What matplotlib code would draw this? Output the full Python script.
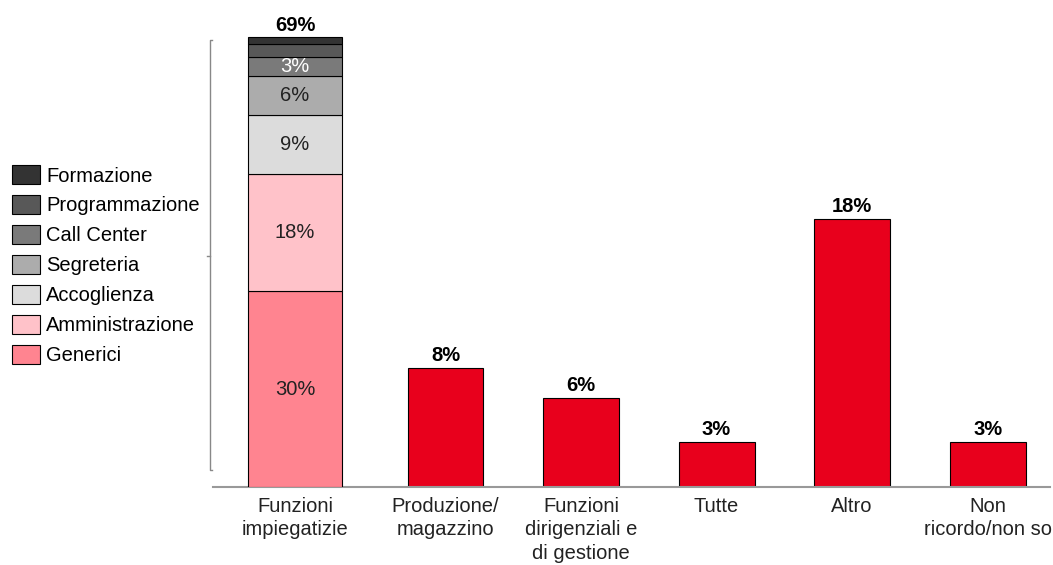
import matplotlib.pyplot as plt
from matplotlib.lines import Line2D

plt.rcParams['font.family'] = ['Liberation Sans', 'DejaVu Sans']

# categorie sull'asse x
categories = ["Funzioni\nimpiegatizie", "Produzione/\nmagazzino", "Funzioni\ndirigenziali e\ndi gestione",
              "Tutte", "Altro", "Non\nricordo/non so"]
positions = [0, 1.11, 2.11, 3.11, 4.11, 5.11]

# barra impilata (Funzioni impiegatizie)
stack_names = ["Generici", "Amministrazione", "Accoglienza", "Segreteria",
               "Call Center", "Programmazione", "Formazione"]
stack_values = [30, 18, 9, 6, 3, 2, 1]
stack_labels = ["30%", "18%", "9%", "6%", "3%", "", ""]
stack_total = "69%"
stack_colors = ["#FF8490", "#FFC2C9", "#DCDCDC", "#ACACAC", "#7A7A7A", "#585858", "#333333"]
stack_text_colors = ["#222222", "#222222", "#222222", "#222222", "white", "white", "white"]

# altre barre rosse
red_values = [8, 6, 3, 18, 3]
red_labels = ["8%", "6%", "3%", "18%", "3%"]
red_color = "#E8001C"

FS = 14.5

fig = plt.figure(figsize=(10.53, 5.65), dpi=100)
ax = fig.add_axes([213 / 1053, 78 / 565, 837 / 1053, 457 / 565])
ax2 = ax.twinx()

# asse principale: barre rosse
ax.bar(positions[1:], red_values, width=0.56, color=red_color, edgecolor="black", linewidth=0.8)
for x, v, lab in zip(positions[1:], red_values, red_labels):
    ax.text(x, v + 0.2, lab, ha="center", va="bottom", fontsize=FS, fontweight="bold")
ax.set_ylim(0, 30.7)

# asse secondario: barra impilata
bottom = 0
handles = []
for name, v, c, lab, tc in zip(stack_names, stack_values, stack_colors, stack_labels, stack_text_colors):
    b = ax2.bar(positions[0], v, width=0.69, bottom=bottom, color=c, edgecolor="black",
                linewidth=0.8, label=name)
    handles.append(b)
    if lab:
        ax2.text(positions[0], bottom + v / 2, lab, ha="center", va="center", fontsize=FS, color=tc)
    bottom += v
ax2.text(positions[0], bottom + 0.4, stack_total, ha="center", va="bottom", fontsize=FS, fontweight="bold")
ax2.set_ylim(0, 70.1)

for a in (ax, ax2):
    for s in ["top", "right", "left"]:
        a.spines[s].set_visible(False)
    a.set_yticks([])
ax2.spines["bottom"].set_visible(False)
ax.spines["bottom"].set_color("#999999")
ax.spines["bottom"].set_linewidth(1.5)

ax.set_xlim(-0.605, 5.57)
ax.set_xticks(positions)
ax.set_xticklabels(categories, fontsize=FS, color="#222222", linespacing=1.3)
ax.tick_params(axis="x", length=0, pad=7)

# parentesi a sinistra della barra impilata
W, H = 1053, 565
px = lambda x, y: (x / W, 1 - y / H)
for seg in [((212, 40), (210, 40), (210, 470), (212, 470)), ((210, 256), (207, 256))]:
    xs, ys = zip(*[px(*p) for p in seg])
    fig.add_artist(Line2D(xs, ys, color="#888888", linewidth=1))

# legenda
fig.legend(handles=handles[::-1], labels=stack_names[::-1], loc="upper left",
           bbox_to_anchor=(12 / 1053, 1 - 165 / 565), frameon=False, fontsize=FS,
           handlelength=1.4, handleheight=1.1, handletextpad=0.3, labelspacing=0.47,
           borderaxespad=0, borderpad=0)

plt.savefig("out.png", dpi=100)
